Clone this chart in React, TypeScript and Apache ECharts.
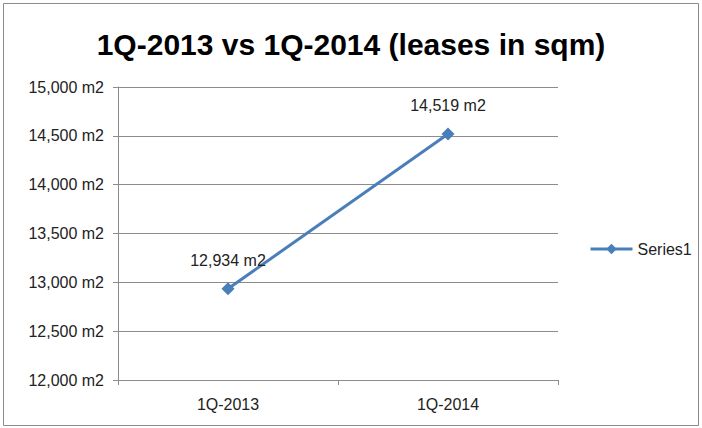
import React, { useEffect, useRef } from "react";
import * as echarts from "echarts";

const titleText = "1Q-2013 vs 1Q-2014 (leases in sqm)";
const categories = ["1Q-2013", "1Q-2014"];
const seriesName = "Series1";
const values = [12934, 14519];
const yMin = 12000;
const yMax = 15000;
const yInterval = 500;

const fmt = (v: number) => v.toLocaleString("en-US") + " m2";

export default function App() {
  const ref = useRef<HTMLDivElement>(null);
  useEffect(() => {
    if (!ref.current) return;
    const chart = echarts.init(ref.current, undefined, { renderer: "svg" });
    const font = "Liberation Sans";
    chart.setOption({
      animation: false,
      backgroundColor: "#ffffff",
      title: {
        text: titleText,
        left: "center",
        top: 24,
        textStyle: { fontFamily: font, fontWeight: "bold", fontSize: 30, color: "#000000" },
      },
      graphic: [
        {
          type: "rect",
          shape: { x: 3.5, y: 3.5, width: 695, height: 422 },
          style: { fill: "none", stroke: "#8c8c8c", lineWidth: 1 },
          silent: true,
        },
      ],
      legend: {
        orient: "vertical",
        left: 584,
        top: 236,
        itemWidth: 42,
        itemHeight: 13,
        itemGap: 4,
        lineStyle: { width: 3, color: "#4a7ebb" },
        itemStyle: { color: "#4a7ebb" },
        textStyle: { fontFamily: font, fontSize: 16, color: "#222" },
        data: [seriesName],
      },
      grid: { left: 118, right: 144, top: 87, bottom: 48 },
      xAxis: {
        type: "category",
        data: categories,
        boundaryGap: true,
        axisLine: { lineStyle: { color: "#8c8c8c", width: 1 } },
        axisTick: { show: true, length: 5, lineStyle: { color: "#8c8c8c" } },
        axisLabel: { fontFamily: font, fontSize: 16, color: "#222", margin: 16 },
      },
      yAxis: {
        type: "value",
        min: yMin,
        max: yMax,
        interval: yInterval,
        axisLine: { show: true, lineStyle: { color: "#8c8c8c", width: 1 } },
        axisTick: { show: true, length: 5, lineStyle: { color: "#8c8c8c" } },
        splitLine: { show: true, lineStyle: { color: "#8c8c8c", width: 1 } },
        axisLabel: { fontFamily: font, fontSize: 16, color: "#222", margin: 14, formatter: (v: number) => fmt(v) },
      },
      series: [
        {
          name: seriesName,
          type: "line",
          data: values,
          symbol: "diamond",
          symbolSize: 13,
          lineStyle: { color: "#4a7ebb", width: 3 },
          itemStyle: { color: "#4a7ebb" },
          label: {
            show: true,
            position: "top",
            distance: 14,
            fontFamily: font,
            fontSize: 16,
            color: "#222",
            formatter: (p: any) => fmt(p.value),
          },
        },
      ],
    });
    return () => chart.dispose();
  }, []);
  return (
    <div
      ref={ref}
      style={{ position: "absolute", left: 0, top: 0, width: 702, height: 428 }}
    />
  );
}
